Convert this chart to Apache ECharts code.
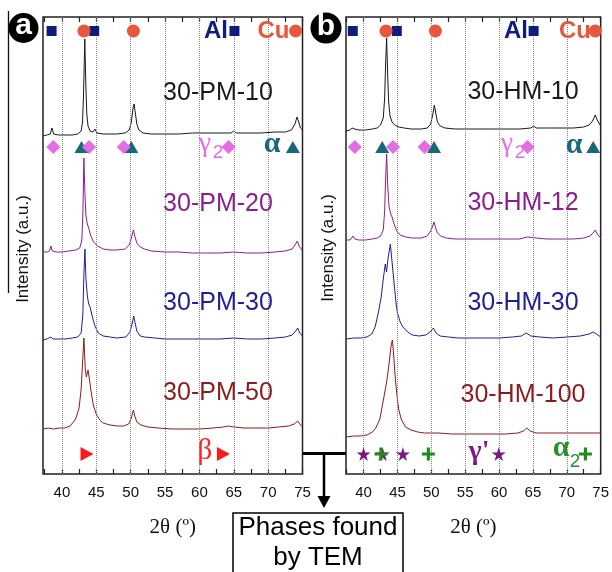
<!DOCTYPE html>
<html>
<head>
<meta charset="utf-8">
<script src="https://cdn.jsdelivr.net/npm/echarts@6/dist/echarts.min.js"></script>
<style>html,body{margin:0;padding:0;background:#fff}#c{width:612px;height:572px}</style>
</head>
<body>
<div id="c"></div>
<script>
// ---- data (2θ in degrees, intensity in a.u., traces stacked as read) ----
const tickLabels = [40, 45, 50, 55, 60, 65, 70, 75];
const tickMarks = [37.5, 40, 42.5, 45, 47.5, 50, 52.5, 55, 57.5, 60, 62.5, 65, 67.5, 70, 72.5, 75];
const gridLines = [40, 45, 50, 55, 60, 65, 70];

const pm10 = [[37.25,338],[37.8,339],[38.3,340],[38.55,346],[38.8,340],[39.5,339],[40.5,339],[41.5,339],[42.3,340],[42.8,343],[43.0,352],[43.15,380],[43.33,435],[43.48,390],[43.62,360],[43.8,348],[44.1,343],[44.5,342],[44.8,345],[45.1,341],[46,340],[47,340],[48,340],[49.2,341],[49.8,344],[50.1,352],[50.35,366],[50.5,370],[50.7,360],[50.9,350],[51.2,344],[51.8,341],[53,340],[55,340],[57,340],[59,341],[61,341],[63,341],[64.6,341],[65.0,343],[65.4,341],[67,341],[69,341],[71,342],[72.5,342],[73.4,344],[73.9,350],[74.2,357],[74.45,352],[74.7,346],[75,344]];
const pm20 = [[37.25,222],[37.8,222],[38.2,223],[38.4,228],[38.6,223],[39.2,222],[40,222],[41,223],[42,224],[42.6,226],[42.9,234],[43.05,260],[43.2,316],[43.35,280],[43.5,258],[43.7,250],[43.9,246],[44.2,238],[44.6,232],[45.2,228],[46,225],[47,224],[48,224],[49.2,225],[49.8,229],[50.1,236],[50.4,244],[50.6,238],[50.9,231],[51.4,227],[52,225],[53,223],[55,222],[57,222],[59,221],[61,221],[63,221],[65,222],[67,221],[69,221],[71,222],[72.5,223],[73.5,225],[74.0,230],[74.25,233],[74.5,228],[75,223]];
const pm30 = [[37.25,134],[37.8,135],[38.4,137],[38.7,135],[39.5,135],[40.5,135],[41.5,136],[42.3,137],[42.8,141],[43.05,160],[43.2,200],[43.35,225],[43.5,195],[43.7,178],[43.9,170],[44.1,167],[44.4,158],[44.8,148],[45.3,141],[46,138],[47,137],[48,136],[49.3,137],[49.9,142],[50.2,150],[50.45,158],[50.65,151],[50.9,143],[51.4,138],[52,137],[53.5,136],[55,135],[57,135],[59,135],[61,135],[63,135],[65,136],[67,135],[69,135],[71,136],[72.5,137],[73.5,139],[74.0,143],[74.3,146],[74.6,141],[75,138]];
const pm50 = [[37.25,45],[38,46],[38.8,45],[39.6,46],[40.4,46],[41.2,48],[42.0,55],[42.5,66],[42.8,85],[43.0,110],[43.2,136],[43.4,105],[43.55,97],[43.8,104],[44.0,95],[44.3,80],[44.6,68],[45.0,60],[45.5,54],[46,51],[47,49],[48,48],[49,48],[49.7,50],[50.1,56],[50.4,64],[50.6,58],[50.9,52],[51.5,49],[52.5,47],[54,46],[56,45],[58,45],[60,45],[62,46],[63.5,47],[64.2,48],[65,47],[66.5,46],[68,46],[70,46],[71.5,47],[73,48],[73.8,50],[74.3,53],[74.6,50],[75,47]];

const hm10 = [[37.4,343],[38.0,344],[38.3,346],[38.5,348],[38.7,345],[39.3,344],[40.3,344],[41.3,345],[42.0,346],[42.5,349],[42.9,356],[43.1,375],[43.25,410],[43.4,436],[43.55,400],[43.7,372],[43.9,358],[44.2,352],[44.6,349],[45.2,347],[46,346],[47,345],[48.5,345],[49.4,346],[49.9,350],[50.2,359],[50.45,369],[50.65,361],[50.9,352],[51.3,348],[52,346],[53.5,345],[55,345],[57,345],[59,345],[61,345],[63,345],[64.7,346],[65.1,348],[65.5,346],[67,346],[69,346],[71,346],[72.5,347],[73.3,349],[73.8,353],[74.2,359],[74.5,354],[75,348]];
const hm12 = [[37.4,234],[38.0,234],[38.25,236],[38.45,238],[38.7,235],[39.3,234],[40.3,234],[41.3,235],[42.0,236],[42.5,238],[42.9,244],[43.1,262],[43.25,295],[43.4,320],[43.55,290],[43.75,268],[44.0,260],[44.2,257],[44.5,250],[44.9,243],[45.4,239],[46.2,237],[47.2,236],[48.5,236],[49.4,238],[49.9,243],[50.2,248],[50.4,252],[50.6,247],[50.9,241],[51.4,238],[52.2,236],[53.5,235],[55,235],[57,235],[59,235],[61,235],[63,235],[64.2,237],[65.5,236],[67,235],[69,235],[71,235],[72.5,236],[73.4,238],[73.9,241],[74.2,244],[74.5,240],[75,236]];
const hm30 = [[37.4,135],[38.5,136],[39.5,136],[40.5,137],[41.2,140],[41.7,147],[42.2,162],[42.6,177],[42.9,195],[43.2,210],[43.38,202],[43.6,215],[43.95,230],[44.2,212],[44.5,191],[44.8,170],[45.0,161],[45.4,152],[45.8,147],[46.5,142],[47.2,139],[48.2,138],[49.2,139],[49.8,142],[50.3,146],[50.7,141],[51.3,138],[52.5,137],[54,136],[56,136],[58,136],[60,136],[62,137],[63.3,138],[64.0,141],[64.7,138],[66,137],[68,136],[70,137],[72,138],[73.3,140],[73.9,142],[74.4,140],[75,137]];
const hm100 = [[37.4,37],[38.5,38],[39.5,38],[40.5,39],[41.3,42],[41.8,46],[42.4,55],[43.0,77],[43.4,92],[43.77,111],[44.05,128],[44.25,134],[44.45,118],[44.7,94],[45.0,74],[45.2,64],[45.6,54],[46.2,47],[47,44],[48,42],[49,41],[50,41],[51,41],[53,40],[55,40],[57,40],[59,40],[61,40],[62.8,41],[63.6,43],[64.1,46],[64.6,43],[65.5,41],[67,41],[69,41],[71,41],[73,41],[75,41]];

// phase reference positions (2θ)
const alA = [38.5, 44.7, 65.1], cuA = [43.2, 50.4, 74.0];
const alB = [38.4, 44.9, 65.1], cuB = [43.3, 50.6, 74.2];
const gam2A = [38.75, 43.95, 49.0, 64.25], alphaA = [42.85, 50.1, 73.6];
const gam2B = [38.7, 44.35, 49.0, 64.2], alphaB = [42.75, 50.4, 73.9];
const betaA = [43.65, 63.5];
const gamPB = [40.0, 42.8, 45.8, 59.95], alpha2B = [42.56, 49.56, 72.75];

const labelsA = ['30-PM-10','30-PM-20','30-PM-30','30-PM-50'];
const labelsB = ['30-HM-10','30-HM-12','30-HM-30','30-HM-100'];

// ---- layout / style ----
const ROW_TOP = 443, ROW_MID = 327, ROW_BOT = 20;
const cBlack='#1a1a1a', cPurple='#8c1f8c', cNavy='#1f1f96', cRed='#8b1c1c';
const colA = [cBlack, cPurple, cNavy, cRed];
const STAR = 'path://M50,0 L61,35 L98,35 L68,57 L79,91 L50,70 L21,91 L32,57 L2,35 L39,35 Z';
const PLUS = 'path://M38,0 H62 V38 H100 V62 H62 V100 H38 V62 H0 V38 H38 Z';

const chart = echarts.init(document.getElementById('c'), null, {renderer:'canvas'});

function xAx(grid, min, max, pos) {
  const bottom = pos === 'bottom';
  return {
    type:'value', gridIndex:grid, min:min, max:max, position:pos,
    name: bottom ? '2\u03b8 (\u00ba)' : '', nameLocation:'middle', nameGap:43,
    nameTextStyle:{fontFamily:'Liberation Serif', fontSize:21, color:'#111'},
    axisLine:{show:false},
    axisTick:{show:true, inside:true, length:5, customValues:tickMarks, lineStyle:{color:'#222', width:1.2}},
    axisLabel:{show:bottom, customValues:tickLabels, fontFamily:'Liberation Sans', fontSize:15, color:'#111', margin:11},
    splitLine:{show:false}
  };
}
function yAx(grid){ return {type:'value', gridIndex:grid, min:0, max:457, show:false, splitLine:{show:false}}; }

function trace(data, color, xi){ return {type:'line', xAxisIndex:xi, yAxisIndex:xi/2|0, data:data, showSymbol:false, symbol:'none', lineStyle:{color:color, width:1}, z:3, animation:false, silent:true}; }
function marks(xs, row, symbol, size, color, xi, rot){
  return {type:'scatter', xAxisIndex:xi, yAxisIndex:xi/2|0, data:xs.map(x=>[x,row]), symbol:symbol, symbolSize:size, symbolRotate:rot||0, itemStyle:{color:color, opacity:1}, z:5, animation:false, silent:true};
}
function gridSeries(xi){
  return {type:'line', xAxisIndex:xi, yAxisIndex:xi/2|0, data:[], z:1, animation:false, silent:true,
    markLine:{silent:true, symbol:['none','none'], label:{show:false}, animation:false,
      lineStyle:{type:'dotted', color:'#8a8a8a', width:1},
      data: gridLines.map(v=>({xAxis:v}))}};
}

const series = [
  gridSeries(0), gridSeries(2),
  trace(pm10, cBlack, 0), trace(pm20, cPurple, 0), trace(pm30, cNavy, 0), trace(pm50, cRed, 0),
  trace(hm10, cBlack, 2), trace(hm12, cPurple, 2), trace(hm30, cNavy, 2), trace(hm100, cRed, 2),
  marks(alA, ROW_TOP, 'rect', 10, '#101c7c', 0), marks(cuA, ROW_TOP, 'circle', 13, '#e8573c', 0),
  marks(alB, ROW_TOP, 'rect', 10, '#101c7c', 2), marks(cuB, ROW_TOP, 'circle', 13, '#e8573c', 2),
  marks(alphaA, ROW_MID, 'triangle', [14,12], '#17697a', 0), marks(gam2A, ROW_MID, 'rect', 10, '#e26ee6', 0, 45),
  marks(alphaB, ROW_MID, 'triangle', [14,12], '#17697a', 2), marks(gam2B, ROW_MID, 'rect', 10, '#e26ee6', 2, 45),
  marks(betaA, ROW_BOT, 'triangle', [14,13], '#ff1a1a', 0, -90),
  marks(gamPB, ROW_BOT, STAR, 14, '#7a1a80', 2), marks(alpha2B, ROW_BOT, PLUS, 13, '#1e8c1e', 2)
];

function txt(x, y, s, font, fill, extra){
  return Object.assign({type:'text', x:x, y:y, silent:true, z:50, style:{text:s, font:font, fill:fill, textAlign:'center', textVerticalAlign:'middle'}}, extra||{});
}
const F = 'Liberation Sans, Arial, sans-serif';
const S = 'Liberation Serif, Times New Roman, serif';
const lblY = [93, 204, 303, 393];
const lblYB = [92, 203, 303, 395];

const graphic = [
  // panel letters
  {type:'circle', shape:{cx:23.5, cy:28, r:15}, style:{fill:'#000'}, z:50},
  txt(23.5, 26, 'a', 'bold 30px '+F, '#fff'),
  {type:'circle', shape:{cx:326, cy:28, r:15.5}, style:{fill:'#000'}, z:50},
  txt(326, 27, 'b', 'bold 30px '+F, '#fff'),
  // stray vertical line at far left
  {type:'line', shape:{x1:8.5, y1:11, x2:8.5, y2:293}, style:{stroke:'#111', lineWidth:1.3}, z:50},
  // y labels
  txt(23, 249, 'Intensity (a.u.)', '17px '+F, '#111', {rotation:Math.PI/2}),
  txt(328, 248, 'Intensity (a.u.)', '17px '+F, '#111', {rotation:Math.PI/2}),
  // phase legends
  txt(216, 31, 'Al', 'bold 24px '+F, '#101c80'), txt(273.5, 31, 'Cu', 'bold 24px '+F, '#e8573c'),
  txt(516, 31, 'Al', 'bold 24px '+F, '#101c80'), txt(575, 31, 'Cu', 'bold 24px '+F, '#e8573c'),
  txt(205, 144, '\u03b3', '28px '+S, '#e46ee8'), txt(218, 153, '2', '19px '+F, '#e46ee8'),
  txt(272, 144, '\u03b1', 'bold 30px '+S, '#17697a'),
  txt(507, 144, '\u03b3', '28px '+S, '#e46ee8'), txt(520, 153, '2', '19px '+F, '#e46ee8'),
  txt(574, 145, '\u03b1', 'bold 30px '+S, '#17697a'),
  txt(205, 451, '\u03b2', '29px '+S, '#ff2020'),
  txt(479, 452, '\u03b3\'', 'bold 28px '+S, '#7b1a80'),
  txt(561, 448, '\u03b1', 'bold 30px '+S, '#2a8f2a'), txt(575, 462, '2', '19px '+F, '#2a8f2a'),
  // connector & TEM box
  {type:'line', shape:{x1:302, y1:453.5, x2:346, y2:453.5}, style:{stroke:'#000', lineWidth:3}, z:50},
  {type:'line', shape:{x1:324, y1:453.5, x2:324, y2:498}, style:{stroke:'#000', lineWidth:2.5}, z:50},
  {type:'polygon', shape:{points:[[317.5,496],[330.5,496],[324,508]]}, style:{fill:'#000'}, z:50},
  {type:'rect', shape:{x:233, y:513, width:170, height:80}, style:{fill:'none', stroke:'#000', lineWidth:1.5}, z:50},
  txt(318, 528, 'Phases found', '26px '+F, '#000'),
  txt(318, 558, 'by TEM', '26px '+F, '#000')
];
labelsA.forEach((s,i)=>graphic.push(txt(218, lblY[i], s, '25px '+F, colA[i])));
labelsB.forEach((s,i)=>graphic.push(txt(523, lblYB[i], s, '25px '+F, colA[i])));

chart.setOption({
  animation:false,
  backgroundColor:'#fff',
  grid:[
    {left:43, top:17, width:259.5, height:457, show:true, borderColor:'#222', borderWidth:1.5, backgroundColor:'transparent'},
    {left:346, top:17, width:259, height:457, show:true, borderColor:'#222', borderWidth:1.5, backgroundColor:'transparent'}
  ],
  xAxis:[xAx(0,37.25,75,'bottom'), xAx(0,37.25,75,'top'), xAx(1,37.4,75,'bottom'), xAx(1,37.4,75,'top')],
  yAxis:[yAx(0), yAx(1)],
  series: series,
  graphic: graphic
});
</script>
</body>
</html>
